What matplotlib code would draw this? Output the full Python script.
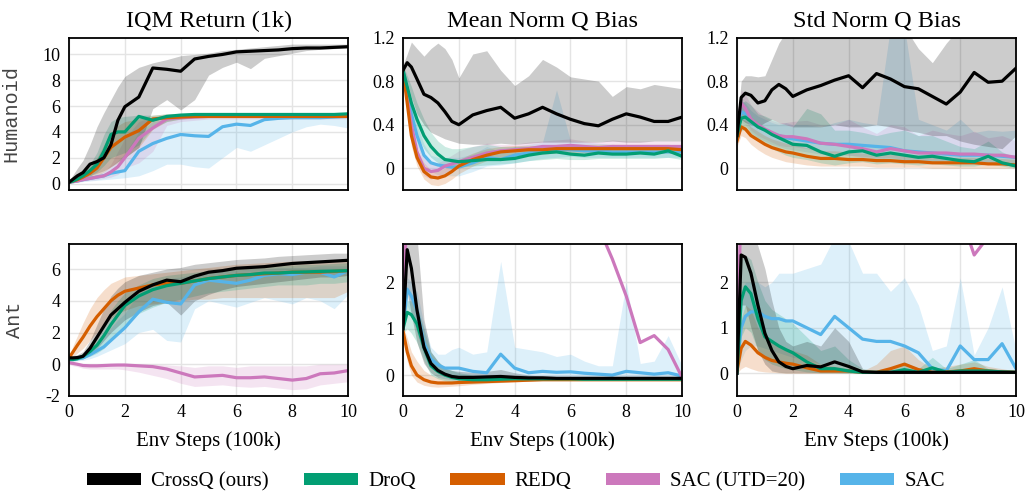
import matplotlib
matplotlib.use("Agg")
import matplotlib.pyplot as plt
from matplotlib.patches import Patch

plt.rcParams["font.family"] = ["Liberation Serif", "DejaVu Serif"]
plt.rcParams["axes.unicode_minus"] = False

# env steps (100k)
steps = [0, 0.15, 0.3, 0.5, 0.75, 1, 1.25, 1.5, 1.75, 2, 2.5, 3, 3.5, 4, 4.5,
         5, 5.5, 6, 6.5, 7, 7.5, 8, 8.5, 9, 9.5, 10]

methods = ["CrossQ (ours)", "DroQ", "REDQ", "SAC (UTD=20)", "SAC"]
colors = ["#000000", "#029e73", "#d55e00", "#cc78bc", "#56b4e9"]
envs = ["Humanoid", "Ant"]
titles = ["IQM Return (1k)", "Mean Norm Q Bias", "Std Norm Q Bias"]

# ---------------- Humanoid, IQM return ----------------
hum_ret_crossq = [0.1, 0.35, 0.6, 0.85, 1.5, 1.7, 2.0, 3.0, 4.9, 5.95, 6.7, 8.95, 8.85, 8.7, 9.65, 9.85,
                  10.0, 10.2, 10.25, 10.3, 10.35, 10.45, 10.5, 10.5, 10.55, 10.6]
hum_ret_crossq_lo = [0.0, 0.15, 0.3, 0.45, 0.6, 0.8, 1.0, 1.3, 1.7, 2.0, 2.8, 5.8, 6.5, 5.7, 6.5, 8.4,
                     9.0, 9.4, 8.9, 9.7, 9.9, 10.1, 10.3, 10.4, 10.45, 10.5]
hum_ret_crossq_hi = [0.2, 0.7, 1.2, 1.8, 3.0, 4.4, 5.5, 6.5, 7.5, 8.3, 9.0, 9.35, 9.6, 9.9, 10.0, 10.1,
                     10.3, 10.4, 10.5, 10.6, 10.7, 10.8, 10.8, 10.8, 10.8, 10.8]
hum_ret_droq = [0.1, 0.2, 0.35, 0.6, 1.0, 1.5, 2.5, 3.8, 4.0, 4.0, 5.2, 4.9, 5.2, 5.3, 5.35, 5.35,
                5.35, 5.35, 5.35, 5.35, 5.35, 5.35, 5.35, 5.35, 5.35, 5.4]
hum_ret_droq_lo = [0.05, 0.1, 0.2, 0.35, 0.6, 0.9, 1.4, 2.0, 2.2, 2.4, 3.0, 4.3, 4.8, 5.0, 5.1, 5.15,
                   5.2, 5.2, 5.2, 5.2, 5.2, 5.2, 5.2, 5.2, 5.2, 5.2]
hum_ret_droq_hi = [0.15, 0.3, 0.5, 0.9, 1.5, 2.4, 3.8, 4.8, 5.1, 5.2, 5.3, 5.3, 5.4, 5.45, 5.5, 5.5,
                   5.5, 5.5, 5.5, 5.5, 5.5, 5.5, 5.5, 5.5, 5.5, 5.5]
hum_ret_redq = [0.1, 0.2, 0.3, 0.5, 0.8, 1.2, 2.0, 2.8, 3.2, 3.6, 4.1, 5.0, 5.1, 5.15, 5.2, 5.2,
                5.2, 5.2, 5.2, 5.2, 5.2, 5.2, 5.2, 5.2, 5.2, 5.2]
hum_ret_redq_lo = [0.05, 0.1, 0.15, 0.25, 0.4, 0.6, 0.9, 1.3, 1.6, 2.0, 2.8, 4.2, 4.8, 5.0, 5.05, 5.1,
                   5.1, 5.1, 5.1, 5.1, 5.1, 5.1, 5.1, 5.1, 5.1, 5.1]
hum_ret_redq_hi = [0.15, 0.3, 0.5, 0.8, 1.3, 2.0, 3.0, 4.0, 4.5, 4.8, 5.0, 5.3, 5.4, 5.4, 5.45, 5.5,
                   5.5, 5.5, 5.5, 5.5, 5.5, 5.5, 5.5, 5.5, 5.5, 5.5]
hum_ret_sac20 = [0.1, 0.15, 0.2, 0.3, 0.4, 0.5, 0.6, 0.9, 1.3, 2.0, 3.5, 4.3, 5.0, 5.1, 5.15, 5.2,
                 5.2, 5.2, 5.2, 5.2, 5.2, 5.2, 5.2, 5.2, 5.2, 5.2]
hum_ret_sac20_lo = [0.05, 0.1, 0.12, 0.2, 0.25, 0.3, 0.4, 0.5, 0.7, 1.2, 1.6, 2.5, 4.5, 4.8, 4.9, 5.0,
                    5.0, 5.0, 5.0, 5.0, 5.0, 5.0, 5.0, 5.0, 5.0, 5.0]
hum_ret_sac20_hi = [0.15, 0.2, 0.3, 0.4, 0.55, 0.7, 0.9, 1.5, 2.5, 3.5, 4.8, 5.2, 5.3, 5.4, 5.4, 5.45,
                    5.5, 5.5, 5.5, 5.5, 5.5, 5.5, 5.5, 5.5, 5.5, 5.5]
hum_ret_sac = [0.1, 0.15, 0.2, 0.3, 0.4, 0.5, 0.6, 0.8, 0.9, 1.0, 2.5, 3.1, 3.5, 3.8, 3.7, 3.65,
               4.4, 4.6, 4.5, 4.95, 5.05, 5.1, 5.1, 5.1, 5.15, 5.2]
hum_ret_sac_lo = [0.05, 0.05, 0.1, 0.15, 0.2, 0.25, 0.3, 0.35, 0.4, 0.45, 0.6, 1.0, 1.5, 1.5, 1.3, 1.2,
                  2.0, 2.8, 2.5, 3.0, 3.5, 4.0, 4.4, 4.6, 4.5, 4.3]
hum_ret_sac_hi = [0.15, 0.2, 0.3, 0.4, 0.6, 0.8, 1.0, 1.3, 1.8, 2.3, 4.0, 4.8, 5.0, 5.1, 5.2, 5.2,
                  5.3, 5.3, 5.3, 5.35, 5.35, 5.35, 5.4, 5.4, 5.4, 5.4]

# ---------------- Humanoid, mean norm Q bias ----------------
hum_mean_crossq = [0.9, 0.97, 0.93, 0.82, 0.68, 0.65, 0.6, 0.52, 0.43, 0.4, 0.49, 0.53, 0.56, 0.46, 0.5, 0.56,
                   0.5, 0.45, 0.41, 0.39, 0.45, 0.5, 0.47, 0.43, 0.43, 0.47]
hum_mean_crossq_lo = [0.85, 0.8, 0.65, 0.5, 0.4, 0.33, 0.3, 0.27, 0.25, 0.23, 0.22, 0.22, 0.23, 0.22, 0.23, 0.24,
                      0.24, 0.24, 0.24, 0.24, 0.25, 0.24, 0.24, 0.25, 0.25, 0.25]
hum_mean_crossq_hi = [0.95, 1.05, 1.16, 1.1, 1.03, 1.1, 1.15, 1.1, 1.0, 0.83, 1.05, 1.08, 0.9, 0.76, 0.85, 1.0,
                      0.93, 0.84, 0.82, 0.8, 0.66, 0.75, 0.73, 0.77, 0.75, 0.73]
hum_mean_droq = [0.9, 0.75, 0.6, 0.45, 0.3, 0.2, 0.13, 0.08, 0.07, 0.06, 0.07, 0.08, 0.08, 0.09, 0.12, 0.14,
                 0.15, 0.13, 0.12, 0.14, 0.13, 0.13, 0.14, 0.13, 0.16, 0.11]
hum_mean_droq_lo = [0.85, 0.65, 0.45, 0.3, 0.18, 0.1, 0.05, 0.02, 0.01, 0.01, 0.02, 0.03, 0.04, 0.05, 0.07, 0.08,
                    0.09, 0.08, 0.08, 0.09, 0.09, 0.09, 0.09, 0.09, 0.1, 0.08]
hum_mean_droq_hi = [0.95, 0.85, 0.75, 0.6, 0.45, 0.33, 0.25, 0.2, 0.18, 0.18, 0.2, 0.22, 0.2, 0.2, 0.2, 0.21,
                    0.21, 0.2, 0.2, 0.2, 0.2, 0.2, 0.21, 0.2, 0.21, 0.2]
hum_mean_redq = [0.9, 0.6, 0.3, 0.1, -0.03, -0.08, -0.09, -0.07, -0.03, 0.02, 0.08, 0.12, 0.15, 0.16, 0.17, 0.17,
                 0.18, 0.18, 0.18, 0.18, 0.18, 0.18, 0.18, 0.18, 0.18, 0.17]
hum_mean_redq_lo = [0.85, 0.5, 0.2, 0.02, -0.1, -0.15, -0.16, -0.14, -0.1, -0.05, 0.02, 0.07, 0.1, 0.12, 0.13, 0.13,
                    0.14, 0.14, 0.14, 0.14, 0.14, 0.14, 0.14, 0.14, 0.14, 0.13]
hum_mean_redq_hi = [0.95, 0.7, 0.4, 0.18, 0.05, -0.02, -0.02, 0.0, 0.04, 0.08, 0.14, 0.18, 0.2, 0.21, 0.21, 0.21,
                    0.22, 0.22, 0.22, 0.22, 0.22, 0.22, 0.22, 0.22, 0.22, 0.21]
hum_mean_sac20 = [0.9, 0.65, 0.4, 0.15, 0.0, -0.03, -0.02, 0.02, 0.04, 0.06, 0.1, 0.14, 0.16, 0.17, 0.18, 0.2,
                  0.2, 0.21, 0.2, 0.19, 0.2, 0.2, 0.2, 0.2, 0.2, 0.2]
hum_mean_sac20_lo = [0.85, 0.55, 0.3, 0.06, -0.07, -0.1, -0.08, -0.04, -0.01, 0.01, 0.04, 0.08, 0.1, 0.12, 0.13, 0.15,
                     0.15, 0.16, 0.15, 0.15, 0.15, 0.15, 0.15, 0.15, 0.15, 0.15]
hum_mean_sac20_hi = [0.95, 0.75, 0.5, 0.25, 0.1, 0.05, 0.05, 0.08, 0.12, 0.16, 0.2, 0.23, 0.22, 0.22, 0.24, 0.25,
                     0.26, 0.27, 0.25, 0.24, 0.26, 0.25, 0.25, 0.25, 0.25, 0.25]
hum_mean_sac = [0.9, 0.7, 0.5, 0.3, 0.12, 0.05, 0.03, 0.02, 0.01, 0.01, 0.05, 0.1, 0.08, 0.12, 0.14, 0.16,
                0.17, 0.17, 0.16, 0.16, 0.15, 0.15, 0.15, 0.15, 0.15, 0.15]
hum_mean_sac_lo = [0.85, 0.6, 0.4, 0.2, 0.04, -0.03, -0.06, -0.07, -0.07, -0.07, -0.03, 0.02, 0.03, 0.05, 0.07, 0.09,
                   0.1, 0.11, 0.1, 0.1, 0.1, 0.1, 0.1, 0.1, 0.1, 0.1]
hum_mean_sac_hi = [0.95, 0.8, 0.6, 0.4, 0.22, 0.12, 0.1, 0.1, 0.1, 0.1, 0.13, 0.2, 0.15, 0.2, 0.22, 0.24,
                   0.72, 0.25, 0.24, 0.23, 0.22, 0.21, 0.21, 0.21, 0.21, 0.21]

# ---------------- Humanoid, std norm Q bias ----------------
hum_std_crossq = [0.3, 0.65, 0.69, 0.67, 0.6, 0.62, 0.72, 0.77, 0.73, 0.66, 0.72, 0.76, 0.81, 0.85, 0.74, 0.87,
                  0.82, 0.75, 0.73, 0.66, 0.59, 0.7, 0.88, 0.79, 0.8, 0.92]
hum_std_crossq_lo = [0.25, 0.45, 0.42, 0.4, 0.38, 0.42, 0.45, 0.42, 0.4, 0.38, 0.38, 0.38, 0.4, 0.38, 0.38, 0.4,
                     0.38, 0.35, 0.33, 0.3, 0.3, 0.25, 0.22, 0.2, 0.18, 0.3]
hum_std_crossq_hi = [0.4, 0.8, 0.85, 0.85, 0.84, 0.85, 1.0, 1.15, 1.25, 1.3, 1.3, 1.3, 1.3, 1.3, 1.3, 1.3,
                     1.3, 1.3, 1.1, 0.97, 1.15, 1.3, 1.3, 1.3, 1.3, 1.3]
hum_std_droq = [0.3, 0.46, 0.47, 0.43, 0.38, 0.35, 0.31, 0.28, 0.25, 0.22, 0.21, 0.15, 0.11, 0.15, 0.16, 0.12,
                0.14, 0.12, 0.1, 0.11, 0.09, 0.07, 0.06, 0.11, 0.05, 0.02]
hum_std_droq_lo = [0.25, 0.35, 0.35, 0.3, 0.25, 0.22, 0.18, 0.15, 0.12, 0.1, 0.08, 0.05, 0.03, 0.05, 0.06, 0.04,
                   0.05, 0.04, 0.03, 0.04, 0.03, 0.02, 0.02, 0.04, 0.02, 0.0]
hum_std_droq_hi = [0.35, 0.6, 0.62, 0.58, 0.5, 0.48, 0.45, 0.42, 0.4, 0.38, 0.55, 0.5, 0.35, 0.35, 0.33, 0.3,
                   0.33, 0.35, 0.3, 0.3, 0.25, 0.2, 0.18, 0.25, 0.15, 0.1]
hum_std_redq = [0.25, 0.38, 0.36, 0.3, 0.26, 0.22, 0.19, 0.17, 0.15, 0.14, 0.11, 0.09, 0.09, 0.08, 0.08, 0.07,
                0.07, 0.06, 0.06, 0.05, 0.05, 0.05, 0.05, 0.04, 0.04, 0.03]
hum_std_redq_lo = [0.2, 0.3, 0.28, 0.22, 0.17, 0.13, 0.1, 0.08, 0.06, 0.05, 0.03, 0.02, 0.02, 0.02, 0.02, 0.01,
                   0.01, 0.01, 0.01, 0.0, 0.0, 0.0, 0.0, 0.0, 0.0, 0.0]
hum_std_redq_hi = [0.3, 0.45, 0.44, 0.38, 0.34, 0.3, 0.27, 0.25, 0.23, 0.22, 0.19, 0.16, 0.16, 0.15, 0.14, 0.13,
                   0.13, 0.12, 0.12, 0.11, 0.1, 0.1, 0.1, 0.09, 0.09, 0.08]
hum_std_sac20 = [0.35, 0.6, 0.55, 0.45, 0.4, 0.36, 0.33, 0.3, 0.29, 0.29, 0.27, 0.23, 0.22, 0.2, 0.18, 0.15,
                 0.18, 0.16, 0.14, 0.14, 0.14, 0.13, 0.13, 0.12, 0.12, 0.1]
hum_std_sac20_lo = [0.3, 0.5, 0.45, 0.35, 0.3, 0.27, 0.24, 0.21, 0.2, 0.2, 0.18, 0.15, 0.14, 0.12, 0.1, 0.08,
                    0.1, 0.08, 0.07, 0.07, 0.07, 0.06, 0.06, 0.05, 0.05, 0.04]
hum_std_sac20_hi = [0.4, 0.72, 0.68, 0.58, 0.52, 0.47, 0.44, 0.42, 0.42, 0.43, 0.44, 0.4, 0.4, 0.45, 0.38, 0.32,
                    0.4, 0.38, 0.3, 0.35, 0.32, 0.3, 0.34, 0.28, 0.3, 0.25]
hum_std_sac = [0.35, 0.52, 0.5, 0.43, 0.38, 0.35, 0.32, 0.3, 0.28, 0.27, 0.25, 0.23, 0.22, 0.22, 0.21, 0.2,
               0.19, 0.16, 0.15, 0.14, 0.13, 0.12, 0.12, 0.12, 0.11, 0.1]
hum_std_sac_lo = [0.3, 0.42, 0.4, 0.33, 0.28, 0.25, 0.22, 0.2, 0.18, 0.17, 0.15, 0.13, 0.12, 0.12, 0.11, 0.1,
                  0.09, 0.07, 0.06, 0.06, 0.05, 0.05, 0.05, 0.05, 0.04, 0.04]
hum_std_sac_hi = [0.4, 0.62, 0.6, 0.53, 0.48, 0.45, 0.42, 0.4, 0.42, 0.4, 0.4, 0.38, 0.42, 0.45, 0.42, 0.4,
                  1.3, 1.3, 0.45, 0.4, 0.35, 0.45, 0.33, 0.35, 0.34, 0.35]

# ---------------- Ant, IQM return ----------------
ant_ret_crossq = [0.4, 0.4, 0.42, 0.5, 1.0, 1.7, 2.4, 3.1, 3.5, 3.9, 4.6, 5.0, 5.3, 5.2, 5.55, 5.8,
                  5.9, 6.05, 6.1, 6.15, 6.25, 6.35, 6.4, 6.45, 6.5, 6.55]
ant_ret_crossq_lo = [0.3, 0.3, 0.3, 0.35, 0.6, 1.0, 1.5, 2.0, 2.4, 2.8, 3.3, 3.7, 3.9, 3.1, 4.0, 4.4,
                     4.7, 4.9, 5.0, 5.1, 5.2, 5.3, 5.4, 5.5, 5.5, 5.6]
ant_ret_crossq_hi = [0.5, 0.55, 0.6, 0.8, 1.5, 2.5, 3.5, 4.3, 4.8, 5.2, 5.6, 5.8, 6.0, 6.1, 6.3, 6.4,
                     6.5, 6.6, 6.65, 6.7, 6.8, 6.85, 6.9, 6.95, 7.0, 7.0]
ant_ret_droq = [0.3, 0.3, 0.35, 0.5, 0.8, 1.2, 1.8, 2.5, 3.1, 3.7, 4.3, 4.7, 4.95, 5.1, 5.25, 5.4,
                5.5, 5.6, 5.65, 5.75, 5.75, 5.8, 5.82, 5.85, 5.87, 5.9]
ant_ret_droq_lo = [0.2, 0.2, 0.25, 0.35, 0.5, 0.7, 1.0, 1.5, 2.0, 2.5, 3.2, 3.6, 3.9, 4.1, 4.3, 4.5,
                   4.6, 4.7, 4.8, 4.9, 5.0, 5.0, 5.0, 5.1, 5.1, 5.2]
ant_ret_droq_hi = [0.4, 0.45, 0.5, 0.7, 1.2, 1.8, 2.6, 3.4, 4.0, 4.5, 5.0, 5.4, 5.6, 5.7, 5.8, 5.9,
                   6.0, 6.05, 6.1, 6.15, 6.2, 6.25, 6.3, 6.3, 6.35, 6.4]
ant_ret_redq = [0.4, 0.8, 1.2, 1.7, 2.4, 3.0, 3.5, 4.0, 4.35, 4.6, 4.8, 5.0, 5.1, 5.1, 5.25, 5.4,
                5.5, 5.6, 5.65, 5.7, 5.75, 5.8, 5.8, 5.8, 5.85, 5.9]
ant_ret_redq_lo = [0.3, 0.5, 0.7, 1.0, 1.5, 2.0, 2.5, 2.9, 3.2, 3.4, 3.7, 3.8, 3.9, 4.0, 4.1, 4.1,
                   4.2, 4.2, 4.2, 4.2, 4.2, 4.2, 4.2, 4.2, 4.2, 4.6]
ant_ret_redq_hi = [0.5, 1.2, 1.8, 2.6, 3.5, 4.2, 4.7, 5.1, 5.3, 5.5, 5.6, 5.7, 5.8, 5.9, 6.0, 6.1,
                   6.2, 6.3, 6.35, 6.4, 6.45, 6.5, 6.5, 6.5, 6.5, 6.5]
ant_ret_sac20 = [0.1, 0.05, 0.0, -0.08, -0.1, -0.1, -0.08, -0.06, -0.05, -0.05, -0.1, -0.15, -0.3, -0.55, -0.8, -0.75,
                 -0.7, -0.85, -0.85, -0.8, -0.9, -1.0, -0.9, -0.6, -0.55, -0.4]
ant_ret_sac20_lo = [0.0, -0.1, -0.15, -0.25, -0.3, -0.3, -0.3, -0.3, -0.3, -0.35, -0.5, -0.7, -0.9, -1.2, -1.4, -1.35,
                    -1.3, -1.4, -1.45, -1.4, -1.5, -1.6, -1.55, -1.3, -1.2, -1.1]
ant_ret_sac20_hi = [0.2, 0.1, 0.05, 0.0, 0.0, 0.0, 0.0, 0.0, 0.0, 0.0, 0.0, 0.0, -0.05, -0.1, -0.2, -0.1,
                    -0.1, -0.2, -0.1, -0.1, -0.1, -0.1, -0.1, 0.0, 0.0, 0.0]
ant_ret_sac = [0.3, 0.3, 0.35, 0.4, 0.6, 0.85, 1.1, 1.5, 1.9, 2.3, 3.3, 4.1, 3.9, 3.8, 5.0, 5.3,
               5.2, 5.1, 5.3, 5.6, 5.7, 5.65, 5.8, 5.8, 5.5, 5.9]
ant_ret_sac_lo = [0.2, 0.2, 0.22, 0.25, 0.35, 0.5, 0.7, 0.9, 1.1, 1.3, 2.0, 2.2, 1.5, 1.4, 3.5, 4.0,
                  3.8, 3.6, 3.9, 4.2, 4.0, 3.8, 4.2, 4.0, 3.5, 4.4]
ant_ret_sac_hi = [0.4, 0.45, 0.5, 0.6, 0.9, 1.3, 1.7, 2.3, 2.8, 3.2, 4.5, 5.2, 5.4, 5.5, 5.7, 5.8,
                  5.9, 5.95, 6.0, 6.0, 6.1, 6.1, 6.1, 6.2, 6.2, 6.2]

# ---------------- Ant, mean norm Q bias ----------------
ant_mean_crossq = [1.0, 2.7, 2.3, 1.4, 0.6, 0.25, 0.1, 0.02, -0.03, -0.05, -0.05, -0.04, -0.03, -0.05, -0.06, -0.06,
                   -0.07, -0.07, -0.07, -0.07, -0.07, -0.07, -0.07, -0.07, -0.07, -0.07]
ant_mean_crossq_lo = [0.9, 1.8, 1.3, 0.7, 0.25, 0.05, -0.05, -0.08, -0.1, -0.1, -0.1, -0.09, -0.08, -0.09, -0.1, -0.1,
                      -0.1, -0.1, -0.1, -0.1, -0.1, -0.1, -0.1, -0.1, -0.1, -0.1]
ant_mean_crossq_hi = [1.1, 3.5, 3.5, 3.0, 1.2, 0.5, 0.3, 0.15, 0.1, 0.08, 0.06, 0.08, 0.12, 0.05, 0.0, -0.02,
                      -0.03, -0.03, -0.03, -0.03, -0.03, -0.03, -0.03, -0.03, -0.03, -0.03]
ant_mean_droq = [1.0, 1.35, 1.3, 1.1, 0.6, 0.2, 0.08, 0.0, -0.05, -0.08, -0.1, -0.1, -0.09, -0.08, -0.08, -0.08,
                 -0.08, -0.08, -0.09, -0.09, -0.09, -0.09, -0.09, -0.09, -0.09, -0.09]
ant_mean_droq_lo = [0.9, 1.0, 0.9, 0.7, 0.3, 0.0, -0.08, -0.12, -0.15, -0.16, -0.17, -0.16, -0.15, -0.13, -0.12, -0.12,
                    -0.12, -0.12, -0.12, -0.12, -0.12, -0.12, -0.12, -0.12, -0.12, -0.12]
ant_mean_droq_hi = [1.1, 1.6, 1.6, 1.5, 1.0, 0.5, 0.3, 0.15, 0.1, 0.05, 0.0, -0.02, -0.03, -0.04, -0.05, -0.05,
                    -0.05, -0.05, -0.05, -0.05, -0.05, -0.05, -0.05, -0.05, -0.05, -0.05]
ant_mean_redq = [0.95, 0.5, 0.2, 0.0, -0.1, -0.15, -0.17, -0.17, -0.17, -0.16, -0.15, -0.14, -0.13, -0.12, -0.11, -0.1,
                 -0.1, -0.1, -0.1, -0.1, -0.1, -0.1, -0.1, -0.1, -0.1, -0.1]
ant_mean_redq_lo = [0.85, 0.3, 0.0, -0.15, -0.22, -0.25, -0.26, -0.25, -0.24, -0.23, -0.2, -0.18, -0.16, -0.15, -0.13, -0.12,
                    -0.12, -0.12, -0.12, -0.12, -0.12, -0.12, -0.12, -0.12, -0.12, -0.12]
ant_mean_redq_hi = [1.05, 0.8, 0.5, 0.3, 0.1, 0.0, -0.05, -0.08, -0.1, -0.1, -0.1, -0.1, -0.1, -0.09, -0.08, -0.08,
                    -0.08, -0.08, -0.08, -0.08, -0.08, -0.08, -0.08, -0.08, -0.08, -0.08]
ant_mean_sac20 = [1.0, 4.0, 5.0, 5.0, 5.0, 5.0, 5.0, 5.0, 5.0, 5.0, 5.0, 5.0, 5.0, 5.0, 5.0, 4.5,
                  4.2, 4.0, 3.6, 3.2, 2.5, 1.7, 0.7, 0.85, 0.55, -0.05]
ant_mean_sac20_lo = ant_mean_sac20
ant_mean_sac20_hi = ant_mean_sac20
ant_mean_sac = [1.0, 1.85, 1.7, 1.4, 0.7, 0.35, 0.22, 0.15, 0.15, 0.15, 0.08, 0.05, 0.45, 0.15, 0.05, 0.08,
                0.06, 0.07, 0.04, 0.02, 0.0, 0.08, 0.05, 0.02, 0.05, -0.02]
ant_mean_sac_lo = [0.9, 1.5, 1.3, 0.9, 0.4, 0.15, 0.05, 0.0, -0.02, -0.03, -0.05, -0.05, -0.02, -0.03, -0.05, -0.05,
                   -0.05, -0.05, -0.06, -0.06, -0.06, -0.05, -0.06, -0.06, -0.06, -0.07]
ant_mean_sac_hi = [1.1, 2.1, 2.0, 1.8, 1.1, 0.6, 0.45, 0.45, 0.55, 0.6, 0.45, 0.5, 2.45, 0.6, 0.55, 0.5,
                   0.4, 0.45, 0.3, 0.2, 0.2, 2.0, 0.25, 0.3, 0.85, 0.2]

# ---------------- Ant, std norm Q bias ----------------
ant_std_crossq = [0.0, 2.6, 2.55, 2.2, 1.5, 0.88, 0.5, 0.25, 0.15, 0.1, 0.17, 0.14, 0.25, 0.15, 0.03, 0.02,
                  0.02, 0.02, 0.02, 0.02, 0.02, 0.02, 0.02, 0.02, 0.02, 0.02]
ant_std_crossq_lo = [0.0, 1.5, 1.5, 1.0, 0.5, 0.2, 0.05, 0.02, 0.01, 0.01, 0.01, 0.01, 0.01, 0.01, 0.0, 0.0,
                     0.0, 0.0, 0.0, 0.0, 0.0, 0.0, 0.0, 0.0, 0.0, 0.0]
ant_std_crossq_hi = [0.1, 3.5, 3.5, 3.2, 2.8, 2.3, 1.6, 1.0, 0.7, 0.6, 0.7, 0.6, 1.0, 0.7, 0.1, 0.05,
                     0.05, 0.05, 0.05, 0.05, 0.05, 0.05, 0.05, 0.05, 0.05, 0.05]
ant_std_droq = [0.0, 1.6, 1.9, 1.75, 1.2, 0.8, 0.7, 0.6, 0.52, 0.45, 0.25, 0.1, 0.1, 0.05, 0.02, 0.02,
                0.02, 0.08, 0.02, 0.12, 0.02, 0.05, 0.05, 0.05, 0.03, 0.02]
ant_std_droq_lo = [0.0, 0.8, 1.0, 0.9, 0.5, 0.3, 0.2, 0.15, 0.1, 0.08, 0.03, 0.01, 0.01, 0.0, 0.0, 0.0,
                   0.0, 0.0, 0.0, 0.0, 0.0, 0.0, 0.0, 0.0, 0.0, 0.0]
ant_std_droq_hi = [0.1, 2.5, 2.6, 2.5, 2.0, 1.6, 1.4, 1.3, 1.2, 1.1, 0.8, 0.5, 0.6, 0.3, 0.1, 0.05,
                   0.1, 0.25, 0.1, 0.35, 0.1, 0.2, 0.3, 0.1, 0.05, 0.05]
ant_std_redq = [0.05, 0.55, 0.7, 0.62, 0.45, 0.35, 0.28, 0.25, 0.22, 0.2, 0.12, 0.05, 0.05, 0.05, 0.02, 0.02,
                0.1, 0.2, 0.08, 0.02, 0.03, 0.05, 0.1, 0.05, 0.03, 0.02]
ant_std_redq_lo = [0.0, 0.1, 0.15, 0.1, 0.05, 0.03, 0.02, 0.01, 0.0, 0.0, 0.0, 0.0, 0.0, 0.0, 0.0, 0.0,
                   0.0, 0.0, 0.0, 0.0, 0.0, 0.0, 0.0, 0.0, 0.0, 0.0]
ant_std_redq_hi = [0.1, 1.2, 1.5, 1.4, 1.0, 0.8, 0.7, 0.6, 0.55, 0.5, 0.4, 0.2, 0.15, 0.1, 0.05, 0.2,
                   0.5, 0.6, 0.3, 0.1, 0.15, 0.2, 0.25, 0.15, 0.1, 0.05]
ant_std_sac20 = [0.0, 4.0, 5.0, 5.0, 5.0, 5.0, 5.0, 5.0, 5.0, 5.0, 5.0, 5.0, 5.0, 5.0, 5.0, 5.0,
                 5.0, 5.0, 5.0, 4.5, 4.0, 3.5, 2.6, 3.0, 3.5, 4.0]
ant_std_sac20_lo = ant_std_sac20
ant_std_sac20_hi = ant_std_sac20
ant_std_sac = [0.1, 1.0, 1.25, 1.35, 1.35, 1.25, 1.2, 1.2, 1.15, 1.15, 1.0, 0.85, 1.25, 1.0, 0.75, 0.7,
               0.7, 0.6, 0.45, 0.1, 0.05, 0.6, 0.3, 0.3, 0.65, 0.1]
ant_std_sac_lo = [0.0, 0.3, 0.5, 0.6, 0.6, 0.55, 0.5, 0.45, 0.4, 0.35, 0.3, 0.2, 0.3, 0.2, 0.1, 0.05,
                  0.05, 0.05, 0.0, 0.0, 0.0, 0.0, 0.0, 0.0, 0.0, 0.0]
ant_std_sac_hi = [0.2, 1.8, 2.0, 2.0, 2.0, 1.9, 2.0, 2.2, 2.2, 2.2, 2.3, 2.4, 3.0, 2.9, 2.2, 2.2,
                  1.8, 2.1, 1.5, 0.5, 0.6, 2.1, 0.4, 1.0, 1.9, 0.5]

# table: row -> column -> list of (mean, lo, hi) in legend order
panels = [
    [
        [(hum_ret_crossq, hum_ret_crossq_lo, hum_ret_crossq_hi), (hum_ret_droq, hum_ret_droq_lo, hum_ret_droq_hi),
         (hum_ret_redq, hum_ret_redq_lo, hum_ret_redq_hi), (hum_ret_sac20, hum_ret_sac20_lo, hum_ret_sac20_hi),
         (hum_ret_sac, hum_ret_sac_lo, hum_ret_sac_hi)],
        [(hum_mean_crossq, hum_mean_crossq_lo, hum_mean_crossq_hi), (hum_mean_droq, hum_mean_droq_lo, hum_mean_droq_hi),
         (hum_mean_redq, hum_mean_redq_lo, hum_mean_redq_hi), (hum_mean_sac20, hum_mean_sac20_lo, hum_mean_sac20_hi),
         (hum_mean_sac, hum_mean_sac_lo, hum_mean_sac_hi)],
        [(hum_std_crossq, hum_std_crossq_lo, hum_std_crossq_hi), (hum_std_droq, hum_std_droq_lo, hum_std_droq_hi),
         (hum_std_redq, hum_std_redq_lo, hum_std_redq_hi), (hum_std_sac20, hum_std_sac20_lo, hum_std_sac20_hi),
         (hum_std_sac, hum_std_sac_lo, hum_std_sac_hi)],
    ],
    [
        [(ant_ret_crossq, ant_ret_crossq_lo, ant_ret_crossq_hi), (ant_ret_droq, ant_ret_droq_lo, ant_ret_droq_hi),
         (ant_ret_redq, ant_ret_redq_lo, ant_ret_redq_hi), (ant_ret_sac20, ant_ret_sac20_lo, ant_ret_sac20_hi),
         (ant_ret_sac, ant_ret_sac_lo, ant_ret_sac_hi)],
        [(ant_mean_crossq, ant_mean_crossq_lo, ant_mean_crossq_hi), (ant_mean_droq, ant_mean_droq_lo, ant_mean_droq_hi),
         (ant_mean_redq, ant_mean_redq_lo, ant_mean_redq_hi), (ant_mean_sac20, ant_mean_sac20_lo, ant_mean_sac20_hi),
         (ant_mean_sac, ant_mean_sac_lo, ant_mean_sac_hi)],
        [(ant_std_crossq, ant_std_crossq_lo, ant_std_crossq_hi), (ant_std_droq, ant_std_droq_lo, ant_std_droq_hi),
         (ant_std_redq, ant_std_redq_lo, ant_std_redq_hi), (ant_std_sac20, ant_std_sac20_lo, ant_std_sac20_hi),
         (ant_std_sac, ant_std_sac_lo, ant_std_sac_hi)],
    ],
]

ylims = [[(-0.5, 11.3), (-0.2, 1.2), (-0.2, 1.2)],
         [(-2, 7.6), (-0.45, 2.83), (-0.5, 2.85)]]
yticks = [[[0, 2, 4, 6, 8, 10], [0, 0.4, 0.8, 1.2], [0, 0.4, 0.8, 1.2]],
          [[-2, 0, 2, 4, 6], [0, 1, 2], [0, 1, 2]]]
yticklabels = [[["0", "2", "4", "6", "8", "10"], ["0", "0.4", "0.8", "1.2"], ["0", "0.4", "0.8", "1.2"]],
               [["-2", "0", "2", "4", "6"], ["0", "1", "2"], ["0", "1", "2"]]]

fig = plt.figure(figsize=(10.26, 4.93), dpi=100)
lefts = [0.0673, 0.3928, 0.7183]
bottoms = [0.6146, 0.1968]
w, h = 0.272, 0.309

for r in range(2):
    for c in range(3):
        ax = fig.add_axes([lefts[c], bottoms[r], w, h])
        # plot in reverse legend order so CrossQ sits on top
        for k in range(4, -1, -1):
            mean, lo, hi = panels[r][c][k]
            ax.fill_between(steps, lo, hi, color=colors[k], alpha=0.2, linewidth=0)
            ax.plot(steps, mean, color=colors[k], linewidth=2.3)
        ax.set_xlim(0, 10)
        ax.set_ylim(*ylims[r][c])
        ax.set_xticks([0, 2, 4, 6, 8, 10])
        ax.set_yticks(yticks[r][c])
        ax.set_yticklabels(yticklabels[r][c])
        ax.grid(True, color="#e4e4e4", linewidth=1.0)
        ax.set_axisbelow(True)
        ax.tick_params(length=0, labelsize=13, pad=6)
        for s in ax.spines.values():
            s.set_linewidth(1.3)
            s.set_color("black")
        if r == 0:
            ax.set_title(titles[c], fontsize=17.5, pad=8)
            ax.tick_params(labelbottom=False)
        else:
            ax.set_xlabel("Env Steps (100k)", fontsize=15, labelpad=7)
        if c == 0:
            ax.set_ylabel(envs[r], fontsize=14.5, family=["Liberation Mono", "DejaVu Sans Mono"],
                          color="#444444", labelpad=16)

handles = [Patch(facecolor=col, edgecolor="none") for col in colors]
fig.legend(handles, methods, loc="center", bbox_to_anchor=(0.503, 0.0233), ncol=5, frameon=False,
           fontsize=15, handlelength=2.6, handleheight=0.52, handletextpad=0.48, columnspacing=1.67)

fig.savefig("out.png", dpi=100)
